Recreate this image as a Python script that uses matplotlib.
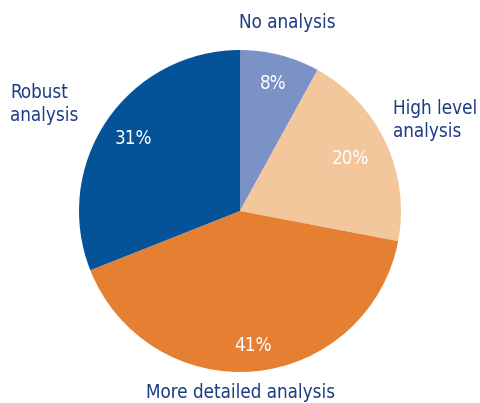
import matplotlib
matplotlib.use("Agg")
import matplotlib.pyplot as plt
import numpy as np

categories = ["No analysis", "High level\nanalysis", "More detailed analysis", "Robust\nanalysis"]
values = [8, 20, 41, 31]
colors = ["#7b92c6", "#f3c69c", "#e58033", "#045399"]

W, H = 481, 403
plt.rcParams['font.family'] = ['DejaVu Sans']
plt.rcParams['font.stretch'] = 'condensed'
fig = plt.figure(figsize=(W / 100, H / 100), dpi=100)
ax = fig.add_axes([0, 0, 1, 1])

cx, cy, r = 240, H - 211, 161
wedges, texts = ax.pie(
    values, colors=colors, startangle=90, counterclock=False,
    center=(cx, cy), radius=r, frame=True,
    wedgeprops=dict(linewidth=0))
ax.set_xlim(0, W)
ax.set_ylim(0, H)
ax.set_aspect('equal')
ax.axis('off')

# percentage labels placed along each wedge's mid-angle
pct_dist = [0.82, 0.76, 0.84, 0.80]
for w, v, d in zip(wedges, values, pct_dist):
    ang = np.deg2rad((w.theta1 + w.theta2) / 2)
    ax.text(cx + d * r * np.cos(ang), cy + d * r * np.sin(ang), f"{v}%",
            ha='center', va='center', color='white', fontsize=13.5,
            fontstretch='condensed')

navy = "#1d3c84"
lab_kw = dict(color=navy, fontsize=13.5, fontstretch='condensed')
ax.text(287, H - 22, categories[0], ha='center', va='center', **lab_kw)
ax.text(393, H - 120, categories[1], ha='left', va='center', linespacing=1.25, **lab_kw)
ax.text(241, H - 392, categories[2], ha='center', va='center', **lab_kw)
ax.text(10, H - 104, categories[3], ha='left', va='center', linespacing=1.25, **lab_kw)

fig.savefig("out.png", dpi=100)
